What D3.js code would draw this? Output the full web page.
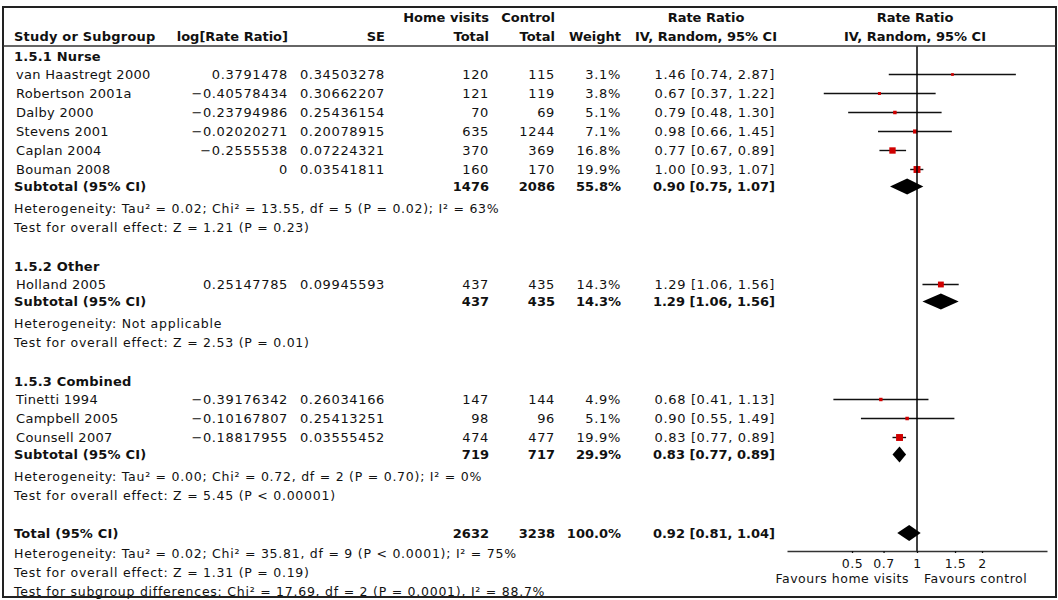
<!DOCTYPE html>
<html>
<head>
<meta charset="utf-8">
<script src="https://cdn.jsdelivr.net/npm/d3@7"></script>
<style>
    body { margin: 0; background: #fff; }
    text { font-family: "DejaVu Sans", sans-serif; fill: #111; }
</style>
</head>
<body>
<div id="chart"></div>
<script>
// values
const groups = ["1.5.1 Nurse", "1.5.2 Other", "1.5.3 Combined"];
const studies = ["van Haastregt 2000", "Robertson 2001a", "Dalby 2000", "Stevens 2001", "Caplan 2004",
    "Bouman 2008", "Holland 2005", "Tinetti 1994", "Campbell 2005", "Counsell 2007"];
const studyGroup = [0, 0, 0, 0, 0, 0, 1, 2, 2, 2];
const logRR = [0.3791478, -0.40578434, -0.23794986, -0.02020271, -0.2555538, 0, 0.25147785, -0.39176342, -0.10167807, -0.18817955];
const se = [0.34503278, 0.30662207, 0.25436154, 0.20078915, 0.07224321, 0.03541811, 0.09945593, 0.26034166, 0.25413251, 0.03555452];
const homeTotal = [120, 121, 70, 635, 370, 160, 437, 147, 98, 474];
const ctrlTotal = [115, 119, 69, 1244, 369, 170, 435, 144, 96, 477];
const weight = [3.1, 3.8, 5.1, 7.1, 16.8, 19.9, 14.3, 4.9, 5.1, 19.9];
const rr = [1.46, 0.67, 0.79, 0.98, 0.77, 1.00, 1.29, 0.68, 0.90, 0.83];
const rrLow = [0.74, 0.37, 0.48, 0.66, 0.67, 0.93, 1.06, 0.41, 0.55, 0.77];
const rrHigh = [2.87, 1.22, 1.30, 1.45, 0.89, 1.07, 1.56, 1.13, 1.49, 0.89];

const subHome = [1476, 437, 719];
const subCtrl = [2086, 435, 717];
const subWeight = [55.8, 14.3, 29.9];
const subRR = [0.90, 1.29, 0.83];
const subLow = [0.75, 1.06, 0.77];
const subHigh = [1.07, 1.56, 0.89];
const hetText = [
    "Heterogeneity: Tau² = 0.02; Chi² = 13.55, df = 5 (P = 0.02); I² = 63%",
    "Heterogeneity: Not applicable",
    "Heterogeneity: Tau² = 0.00; Chi² = 0.72, df = 2 (P = 0.70); I² = 0%"
];
const effectText = [
    "Test for overall effect: Z = 1.21 (P = 0.23)",
    "Test for overall effect: Z = 2.53 (P = 0.01)",
    "Test for overall effect: Z = 5.45 (P < 0.00001)"
];

const total = { home: 2632, ctrl: 3238, weight: 100.0, rr: 0.92, low: 0.81, high: 1.04 };
const totalNotes = [
    "Heterogeneity: Tau² = 0.02; Chi² = 35.81, df = 9 (P < 0.0001); I² = 75%",
    "Test for overall effect: Z = 1.31 (P = 0.19)",
    "Test for subgroup differences: Chi² = 17.69, df = 2 (P = 0.0001), I² = 88.7%"
];
const axisTicks = [0.5, 0.7, 1, 1.5, 2];
const axisDomain = [0.25, 4];

const width = 1058;
const height = 600;

const svg = d3
    .select('#chart')
    .append('svg')
    .attr('width', width)
    .attr('height', height);

// column right edges
const col = { name: 14, log: 288, se: 385, home: 489, ctrl: 555, weight: 621, ci: 775 };

const xScale = d3.scaleLog().domain(axisDomain).range([787, 1047]);
const axisY = 551;

const fmt2 = v => v.toFixed(2);
const ciText = (r, l, h) => `${fmt2(r)} [${fmt2(l)}, ${fmt2(h)}]`;
const signed = v => String(v).replace('-', '\u2212');

// build the rows with a y cursor
const rows = [];
let y = 56;
groups.forEach((g, gi) => {
    if (gi > 0) y += 39;
    rows.push({ type: 'group', y: y, label: g });
    y += 18.5;
    const idx = studies.map((s, i) => i).filter(i => studyGroup[i] === gi);
    idx.forEach((i, k) => {
        if (k > 0) y += 19;
        rows.push({ type: 'study', y: y, i: i });
    });
    y += 17;
    rows.push({ type: 'subtotal', y: y, gi: gi });
    y += 21.5;
    rows.push({ type: 'note', y: y, label: hetText[gi] });
    y += 19;
    rows.push({ type: 'note', y: y, label: effectText[gi] });
});
y += 38;
rows.push({ type: 'total', y: y });
y += 20;
totalNotes.forEach((t, k) => {
    if (k > 0) y += 19;
    rows.push({ type: 'note', y: y, label: t });
});

const textGroup = svg.append('g').attr('id', 'textGroup');
const plotGroup = svg.append('g').attr('id', 'plotGroup');

// spacing: letter-spacing to get closer to the wider original font
const addText = (x, yy, str, anchor, bold, size, spacing) => {
    textGroup.append('text')
        .attr('x', x)
        .attr('y', yy)
        .attr('dy', '0.36em')
        .attr('text-anchor', anchor || 'end')
        .style('font-size', (size || 13) + 'px')
        .style('font-weight', bold ? 'bold' : 'normal')
        .style('letter-spacing', (spacing || 0) + 'px')
        .text(str);
};
const numText = (x, yy, str) => addText(x, yy, str, 'end', false, 13, 0.65);

// header
addText(col.home, 17, 'Home visits', 'end', true);
addText(col.ctrl, 17, 'Control', 'end', true);
addText(706, 17, 'Rate Ratio', 'middle', true);
addText(915, 17, 'Rate Ratio', 'middle', true);
addText(col.name, 36, 'Study or Subgroup', 'start', true, 13, 0.2);
addText(col.log, 36, 'log[Rate Ratio]', 'end', true);
addText(col.se, 36, 'SE', 'end', true);
addText(col.home, 36, 'Total', 'end', true);
addText(col.ctrl, 36, 'Total', 'end', true);
addText(col.weight, 36, 'Weight', 'end', true);
addText(706, 36, 'IV, Random, 95% CI', 'middle', true);
addText(915, 36, 'IV, Random, 95% CI', 'middle', true);

const diamond = (r, l, h, yy) => {
    const hh = 8;
    return `M${xScale(l)},${yy} L${xScale(r)},${yy - hh} L${xScale(h)},${yy} L${xScale(r)},${yy + hh} Z`;
};

rows.forEach(r => {
    if (r.type === 'group') {
        addText(col.name, r.y, r.label, 'start', true, 13, 0.2);
    } else if (r.type === 'study') {
        const i = r.i;
        addText(col.name + 2, r.y, studies[i], 'start', false, 13, 0.3);
        numText(col.log, r.y, signed(logRR[i]));
        numText(col.se, r.y, String(se[i]));
        numText(col.home, r.y, homeTotal[i]);
        numText(col.ctrl, r.y, ctrlTotal[i]);
        numText(col.weight, r.y, weight[i].toFixed(1) + '%');
        numText(col.ci, r.y, ciText(rr[i], rrLow[i], rrHigh[i]));

        plotGroup.append('line')
            .attr('x1', xScale(rrLow[i]))
            .attr('x2', xScale(rrHigh[i]))
            .attr('y1', r.y)
            .attr('y2', r.y)
            .attr('stroke', '#111')
            .attr('stroke-width', 1.4);
        const s = Math.max(2.7, 1.55 * Math.sqrt(weight[i]));
        plotGroup.append('rect')
            .attr('x', xScale(rr[i]) - s / 2)
            .attr('y', r.y - s / 2)
            .attr('width', s)
            .attr('height', s)
            .attr('fill', '#d00000');
    } else if (r.type === 'subtotal') {
        const g = r.gi;
        addText(col.name, r.y, 'Subtotal (95% CI)', 'start', true, 13, 0.2);
        addText(col.home, r.y, subHome[g], 'end', true);
        addText(col.ctrl, r.y, subCtrl[g], 'end', true);
        addText(col.weight, r.y, subWeight[g].toFixed(1) + '%', 'end', true);
        addText(col.ci, r.y, ciText(subRR[g], subLow[g], subHigh[g]), 'end', true);
        plotGroup.append('path')
            .attr('d', diamond(subRR[g], subLow[g], subHigh[g], r.y))
            .attr('fill', '#000');
    } else if (r.type === 'total') {
        addText(col.name, r.y, 'Total (95% CI)', 'start', true, 13, 0.2);
        addText(col.home, r.y, total.home, 'end', true);
        addText(col.ctrl, r.y, total.ctrl, 'end', true);
        addText(col.weight, r.y, total.weight.toFixed(1) + '%', 'end', true);
        addText(col.ci, r.y, ciText(total.rr, total.low, total.high), 'end', true);
        plotGroup.append('path')
            .attr('d', diamond(total.rr, total.low, total.high, r.y))
            .attr('fill', '#000');
    } else {
        addText(col.name, r.y, r.label, 'start', false, 12.5, 0.75);
    }
});

// line of no effect
plotGroup.append('line')
    .attr('x1', xScale(1))
    .attr('x2', xScale(1))
    .attr('y1', 46)
    .attr('y2', axisY)
    .attr('stroke', '#000')
    .attr('stroke-width', 1.5);

// axis with ticks pointing up
const xAxis = d3.axisBottom(xScale)
    .tickValues(axisTicks)
    .tickFormat(d => String(d))
    .tickSize(-6)
    .tickSizeOuter(0)
    .tickPadding(8);

const axisGroup = svg.append('g')
    .attr('id', 'xAxisGroup')
    .attr('transform', `translate(0, ${axisY})`)
    .call(xAxis);

axisGroup.select('.domain').attr('stroke', '#333').attr('stroke-width', 1.3);
axisGroup.selectAll('.tick line').attr('stroke', '#111').attr('stroke-width', 1.3).attr('y2', 2);
axisGroup.selectAll('.tick text')
    .style('font-family', '"DejaVu Sans", sans-serif')
    .style('font-size', '12.5px')
    .style('letter-spacing', '0.5px')
    .attr('fill', '#111');

addText(xScale(1) - 8, 578, 'Favours home visits', 'end', false, 12.5, 0.5);
addText(xScale(1) + 7, 578, 'Favours control', 'start', false, 12.5, 0.5);

// frame and header rule
svg.append('rect')
    .attr('x', 3)
    .attr('y', 7)
    .attr('width', 1053)
    .attr('height', 590)
    .attr('fill', 'none')
    .attr('stroke', '#222')
    .attr('stroke-width', 2);

svg.append('line')
    .attr('x1', 3)
    .attr('x2', 1056)
    .attr('y1', 46)
    .attr('y2', 46)
    .attr('stroke', '#333')
    .attr('stroke-width', 1.5);
</script>
</body>
</html>
